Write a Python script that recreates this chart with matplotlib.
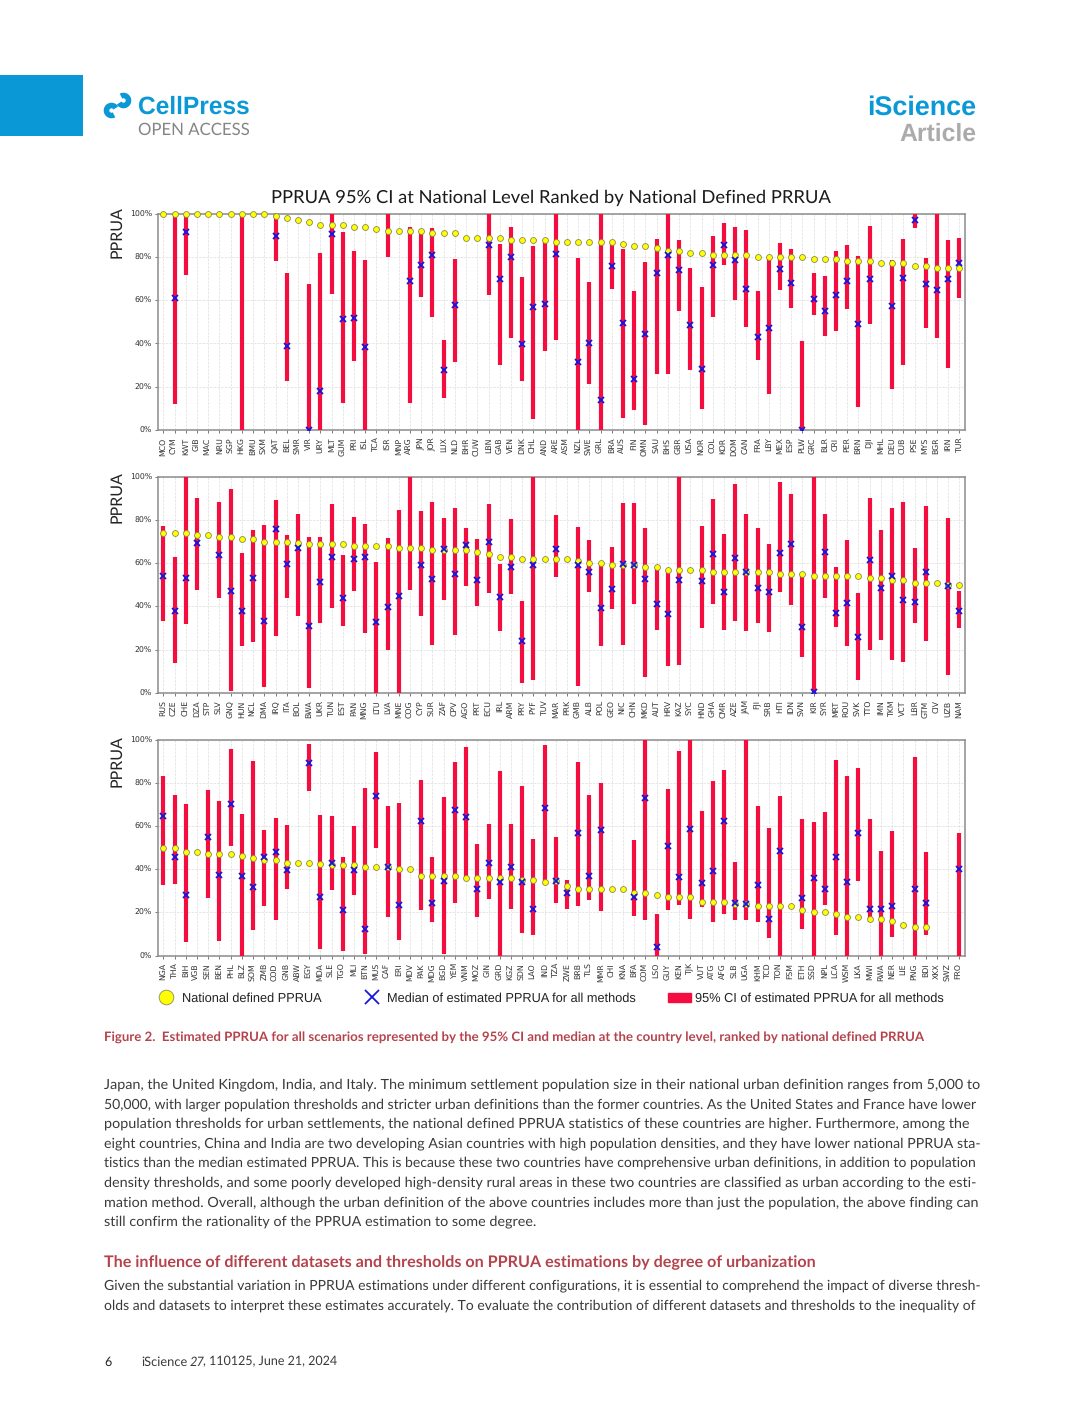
import matplotlib
matplotlib.use('Agg')
import matplotlib.pyplot as plt
from matplotlib.lines import Line2D
from matplotlib.patches import Arc, Patch, Rectangle
from matplotlib.ticker import PercentFormatter

# hinting makes text width jump about with font size
plt.rcParams['text.hinting'] = 'no_hinting'

n = float('nan')

# first panel
codes_1 = ['MCO','CYM','KWT','GIB','MAC','NRU','SGP','HKG','BMU','SXM','QAT','BEL',
           'SMR','VIR','URY','MLT','GUM','PRI','ISL','TCA','ISR','MNP','ARG','JPN',
           'JOR','LUX','NLD','BHR','CUW','LBN','GAB','VEN','DNK','CHL','AND','ARE',
           'ASM','NZL','SWE','GRL','BRA','AUS','FIN','OMN','SAU','BHS','GBR','USA',
           'NOR','COL','KOR','DOM','CAN','FRA','LBY','MEX','ESP','PLW','GRC','BLR',
           'CRI','PER','BRN','DJI','MHL','DEU','CUB','PSE','MYS','BGR','IRN','TUR']
national_1 = [100,100,100,100,100,100,100,100,100,100,99,98,
              97,96,95,95,95,94,94,93,92,92,92,92,
              91,91,91,89,89,89,89,88,88,88,88,87,
              87,87,87,87,87,86,85,85,84,83,83,82,
              82,81,81,81,81,80,80,80,80,80,79,79,
              79,78,78,78,77,77,77,76,76,75,75,75]
low_1 = [n,12,71.5,n,n,n,n,0,n,n,78,22.8,
         n,0,0,63,12.6,32,0,n,80,n,12.5,61.6,
         52,14.5,31.5,n,n,62.5,29.8,42.4,22.4,4.8,36.3,41.5,
         n,0,21,0,65,5.6,9,2.3,26,26,55.2,27.8,
         9.6,52.3,76.5,60.2,47.8,32.4,16.4,64.7,56.3,0,53.2,43.5,
         45.8,55.7,10.6,49.2,n,19,30.2,93.2,47.2,42.3,28.7,61]
high_1 = [n,100,100,n,n,n,n,100,n,n,100,72.5,
          n,67.6,81.8,100,91.5,82.9,78.7,n,100,n,94,92,
          93.5,41.4,79.3,n,n,100,86,94,70.7,85,87,100,
          n,79.6,68.5,100,87,83.8,64.2,77.8,88.4,100,87.8,75,
          66,89.7,95.7,94,92.6,64.4,80,86.4,83.6,41,72.8,71.4,
          82.6,85.5,80.5,94.3,n,78.5,88.3,100,79.6,100,87.8,88.9]
median_1 = [n,61,91.4,n,n,n,n,n,n,n,89.7,38.9,
            n,0,18,90.7,51.2,51.7,38.3,n,n,n,69,76.4,
            80.9,27.5,57.6,n,n,85.5,69.6,80,39.7,57,58.3,81.6,
            n,31.6,40.4,13.7,76,49.5,23.5,44.3,72.7,80.7,74,48.6,
            28.2,76.4,85.6,78.7,65,42.9,47,74.5,68,0,60.5,55,
            62.2,69,49,69.6,n,57.4,70.5,97,67.4,64.8,70,77]

# second panel
codes_2 = ['RUS','CZE','CHE','DZA','STP','SLV','GNQ','HUN','NCL','DMA','IRQ','ITA',
           'BOL','BWA','UKR','TUN','EST','PAN','MNG','LTU','LVA','MNE','COG','CYP',
           'SUR','ZAF','CPV','AGO','PRT','ECU','IRL','ARM','PRY','PYF','TUV','MAR',
           'PRK','GMB','ALB','POL','GEO','NIC','CHN','MKD','AUT','HRV','KAZ','SYC',
           'HND','GHA','CMR','AZE','JAM','FJI','SRB','HTI','IDN','SVN','KIR','SYR',
           'MRT','ROU','SVK','TTO','IMN','TKM','VCT','LBR','GTM','CIV','UZB','NAM']
national_2 = [74,74,74,73,73,72,72,71,71,70,70,70,
              69.5,69,69,69,69,68,68,68,68,67,67,67,
              66,66,66,66,65,64,63,63,62,62,62,62,
              62,61,60,60,59,59,59,58,58,57,57,57,
              57,56,56,56,56,56,56,55,55,55,54,54,
              54,54,54,53,53,52,52,51,51,51,50,50]
low_2 = [33.3,13.6,31.6,47.6,n,44,1,21.4,23.4,2.8,26.2,44,
         35.6,2,32.2,39.3,30.7,47,27.7,0,20,0,47.6,35.6,
         22.3,43,26.6,49.3,40,46,28.6,45.5,4.3,5.8,n,53.5,
         n,3.2,46.8,21.7,38.7,22,41,7.2,29,12.5,13,n,
         30,41,29,33.3,28.5,32.5,28.2,46.5,40.7,16.6,0,44,
         30.2,21.4,5.8,19.9,24.5,15.3,14.3,32.5,23.9,n,8.3,30]
high_2 = [77.4,62.7,100,90.3,n,88.3,94.3,64.7,75.5,77.7,89,73,
          82.6,72,72.3,87.2,63.6,81.5,78,60.7,71.6,84.6,100,84,
          88.4,81,85.7,76.3,71.3,87.5,59.6,80.3,42.4,100,n,82.4,
          n,76.6,70.9,60,67.3,87.8,88,76.4,58,57,100,n,
          77,89.7,73.5,96.8,82.6,76.4,68.7,97.7,91.8,55,100,82.6,
          58,70.9,46,90,75.5,85.5,88.3,66.9,86.4,n,81,47.3]
median_2 = [54,38,52.9,69.2,n,63.8,47,38,52.9,33.4,75.8,59.5,
            66.9,31,51.2,62.7,44,61.8,62.6,32.7,39.8,45,n,59,
            52.7,66.5,54.8,68.6,52,69.8,44.5,58,24,59,n,66.3,
            n,59.3,55.8,39,48,59.8,59,52.7,41,36.5,52.2,n,
            51.6,64.2,46.7,62.4,56,48.7,46.4,64.9,69,30.4,0.3,65.2,
            36.8,41.6,25.9,61.5,48.5,54,42.7,42.2,56,n,49.5,37.8]

# third panel
codes_3 = ['NGA','THA','BIH','VGB','SEN','BEN','PHL','BLZ','SOM','ZMB','COD','GNB',
           'ABW','EGY','MDA','SLE','TGO','MLI','BTN','MUS','CAF','ERI','MDV','PAK',
           'MDG','BGD','YEM','VNM','MOZ','GIN','GRD','KGZ','SDN','LAO','IND','TZA',
           'ZWE','BRB','TLS','MMR','CHI','KNA','BFA','COM','LSO','GUY','KEN','TJK',
           'VUT','ATG','AFG','SLB','UGA','KHM','TCD','TON','FSM','ETH','SSD','NPL',
           'LCA','WSM','LKA','MWI','RWA','NER','LIE','PNG','BDI','XKX','SWZ','FRO']
national_3 = [50,50,48,48,47,47,47,46,45,44,44,43,
              43,43,42.5,42,42,42,41,41,41,40,40,37,
              37,37,37,36,36,36,36,36,35,35,34,34.4,
              32,31,31,31,31,31,29,29,28,27,27,27,
              25,25,25,24,24,23,23,23,23,21,20,20,
              19,18,18,17,17,16,14,13,13,n,n,n]
low_3 = [32.6,33.3,6.3,n,26.7,6.5,50.5,0,11.9,23.1,16.5,30.9,
         n,76,2.9,30.4,2.3,28,0.9,50,17.9,7.1,n,21,
         15.6,0.9,24.4,36.3,17.9,26,0,21.3,10.2,9.7,32.7,24.2,
         21.5,22.8,25.5,20.7,n,n,18.4,16.4,0,21,23.5,17.1,
         22.5,15.7,19.3,16.4,16.5,15.3,8.2,0,n,12.5,0,23.6,
         9.6,0,34.4,15.4,0,8.5,n,0,9.3,n,n,0]
high_3 = [83.3,74.5,70,n,76.7,71.3,95.8,65.7,90,58.3,63.7,60.6,
          n,97.8,65,64.7,45.4,59.9,77.5,94.4,69.4,70.5,n,81.2,
          45.5,73.6,89.4,96.5,51.5,60.8,85.3,61,78.4,53.9,97.5,55,
          34.9,89.8,74.5,80,n,n,53.5,100,19.4,76.9,94.9,100,
          66.8,80.9,86.1,43.5,100,69.1,59.1,74,n,63,61.6,66.5,
          90.6,83.3,87,63,48.3,57.7,n,92,48.1,n,n,56.8]
median_3 = [64.8,45.4,28,n,55,37.2,70.2,36.9,31.6,45.7,47.8,39.8,
            n,89.2,27.3,42.7,21,39.5,12.5,73.8,40.9,23.5,n,62.3,
            24.4,34.3,67.3,63.9,30.6,42.7,34,40.9,34,21.5,68.4,34.3,
            29,56.5,36.7,57.9,n,n,27.3,73,3.9,50.8,36.3,58.5,
            33.6,38.9,62.2,24.2,24,32.7,16.8,48.6,n,26.7,36.1,30.7,
            45.8,33.8,56.8,21.5,21.5,23.1,n,30.7,24.2,n,n,40.1]

# page text
body_1 = ['Japan, the United Kingdom, India, and Italy. The minimum settlement population size in their national urban definition ranges from 5,000 to',
          '50,000, with larger population thresholds and stricter urban definitions than the former countries. As the United States and France have lower',
          'population thresholds for urban settlements, the national defined PPRUA statistics of these countries are higher. Furthermore, among the',
          'eight countries, China and India are two developing Asian countries with high population densities, and they have lower national PPRUA sta-',
          'tistics than the median estimated PPRUA. This is because these two countries have comprehensive urban definitions, in addition to population',
          'density thresholds, and some poorly developed high-density rural areas in these two countries are classified as urban according to the esti-',
          'mation method. Overall, although the urban definition of the above countries includes more than just the population, the above finding can',
          'still confirm the rationality of the PPRUA estimation to some degree.']
body_1_y = [1084.5, 1104.5, 1124, 1143.5, 1163, 1182.5, 1202.5, 1222]
body_1_right = [976, 976, 976, 976, 976, 976, 976, 535]
body_2 = ['Given the substantial variation in PPRUA estimations under different configurations, it is essential to comprehend the impact of diverse thresh-',
          'olds and datasets to interpret these estimates accurately. To evaluate the contribution of different datasets and thresholds to the inequality of']
body_2_y = [1285.5, 1305.5]

W, H = 1080, 1402
BAR = '#f40d3f'
BLUE = '#0a99d6'
RED_HEAD = '#b5434c'
BODY = '#3a3a3a'

fig = plt.figure(figsize=(W / 100, H / 100), dpi=100, facecolor='white')
renderer = fig.canvas.get_renderer()

# whole page in pixel coordinates, for the header, caption and text
page = fig.add_axes([0, 0, 1, 1])
page.set_xlim(0, W)
page.set_ylim(H, 0)
page.axis('off')


# scale the font so a line runs from x0 to x1
def fit_text(s, x0, x1, y, size=10, **kw):
    t = page.text(x0, y, s, fontsize=size, ha='left', va='center', **kw)
    for i in range(4):
        w = t.get_window_extent(renderer).width
        t.set_fontsize(t.get_fontsize() * (x1 - x0) / w)
    return t


def draw_panel(top, label_y, codes, national, low, high, median):
    ax = fig.add_axes([157.5 / W, 1 - (top + 216) / H, 807.5 / W, 216 / H])
    x = list(range(len(codes)))
    ax.vlines(x, low, high, colors=BAR, lw=3.0, zorder=3, capstyle='butt')
    ax.scatter(x, national, s=18, c='#ffff00', edgecolors='#8a8a50', linewidths=0.6,
               zorder=5, clip_on=False)
    ax.plot(x, median, ls='none', marker='x', ms=4.0, mew=1.3, color='#1515e0', zorder=6)
    ax.set_xlim(-0.53, 71.5)
    ax.set_ylim(0, 100)
    ax.set_xticks(x)
    ax.set_xticklabels(codes, rotation=90, fontsize=5.6, color='#333333')
    ax.set_yticks([0, 20, 40, 60, 80, 100])
    ax.yaxis.set_major_formatter(PercentFormatter(100, decimals=0))
    ax.tick_params(axis='y', labelsize=5.6, labelcolor='#333333', length=2.5, width=0.7,
                   pad=1.5, color='#777777')
    ax.tick_params(axis='x', length=2.5, width=0.7, pad=3, color='#777777')
    ax.grid(True, ls='--', lw=0.5, color='#dddddd', zorder=0)
    ax.set_axisbelow(True)
    for s in ax.spines.values():
        s.set_color('#8c8c8c')
        s.set_linewidth(1.1)
    ax.set_ylabel('PPRUA', fontsize=11.5, family='Lato', color='#222222')
    ax.yaxis.set_label_coords(-0.041, label_y)
    return ax


draw_panel(213.8, 0.915, codes_1, national_1, low_1, high_1, median_1)
draw_panel(476.7, 0.905, codes_2, national_2, low_2, high_2, median_2)
draw_panel(739.5, 0.90, codes_3, national_3, low_3, high_3, median_3)

fit_text('PPRUA 95% CI at National Level Ranked by National Defined PRRUA', 271, 828, 197.5,
         size=14, family='Lato', color='#1a1a1a')

# legend, one per entry because the gaps between them are not even
legend_entries = [
    (Line2D([], [], ls='none', marker='o', ms=10.5, mfc='#ffff00', mec='#9a9a60', mew=0.7),
     'National defined PPRUA', 156, 1.6, 0.41),
    (Line2D([], [], ls='none', marker='x', ms=10.5, mew=1.3, color='#1515e0'),
     'Median of estimated PPRUA for all methods', 362, 1.6, 0.33),
    (Patch(facecolor=BAR, edgecolor=BAR),
     '95% CI of estimated PPRUA for all methods', 668, 1.78, 0.31),
]
for handle, label, left, hlen, hpad in legend_entries:
    leg = fig.legend([handle], [label], loc='center left', bbox_to_anchor=(left / W, 1 - 998.5 / H),
                     frameon=False, prop={'family': 'Liberation Sans', 'size': 9.2},
                     labelcolor='#222222', handlelength=hlen, handletextpad=hpad,
                     borderpad=0, borderaxespad=0)

# header
page.add_patch(Rectangle((0, 75), 82.5, 60.5, fc='#0a99d6', ec='none'))
page.add_patch(Arc((111.5, 110.5), 10, 10, theta1=60, theta2=330, lw=4.0, color=BLUE))
page.add_patch(Arc((123.5, 100.5), 10, 10, theta1=240, theta2=510, lw=4.0, color=BLUE))
fit_text('CellPress', 138, 250, 107.5, size=18, family='Liberation Sans', weight='bold', color=BLUE)
fit_text('OPEN ACCESS', 138, 250, 130, size=12, family='Lato', color='#858585')
fit_text('iScience', 867, 976, 107.5, size=18, family='Liberation Sans', weight='bold', color=BLUE)
fit_text('Article', 899, 976, 134.5, size=18, family='Liberation Sans', weight='bold', color='#ababab')

# caption and running text
fit_text('Figure 2.  Estimated PPRUA for all scenarios represented by the 95% CI and median at the country level, ranked by national defined PRRUA',
         104, 927, 1037.5, size=9, family='Lato', weight='bold', color=RED_HEAD)
for line, y, right in zip(body_1, body_1_y, body_1_right):
    fit_text(line, 104, right, y, size=10, family='Lato', color=BODY)
fit_text('The influence of different datasets and thresholds on PPRUA estimations by degree of urbanization',
         104, 814, 1262.5, size=11, family='Lato', weight='bold', color=RED_HEAD)
for line, y in zip(body_2, body_2_y):
    fit_text(line, 104, 976, y, size=10, family='Lato', color=BODY)

# footer
page.text(104, 1362, '6', fontsize=9, family='Lato', color='#222222', va='center')
fit_text('iScience', 141, 187, 1362, size=9, family='Lato', color=BODY)
page.text(190, 1362, '27', fontsize=9.3, family='Lato', style='italic', color=BODY, va='center')
fit_text(', 110125, June 21, 2024', 203, 338, 1362, size=9, family='Lato', color=BODY)

fig.savefig('out.png', dpi=100)
